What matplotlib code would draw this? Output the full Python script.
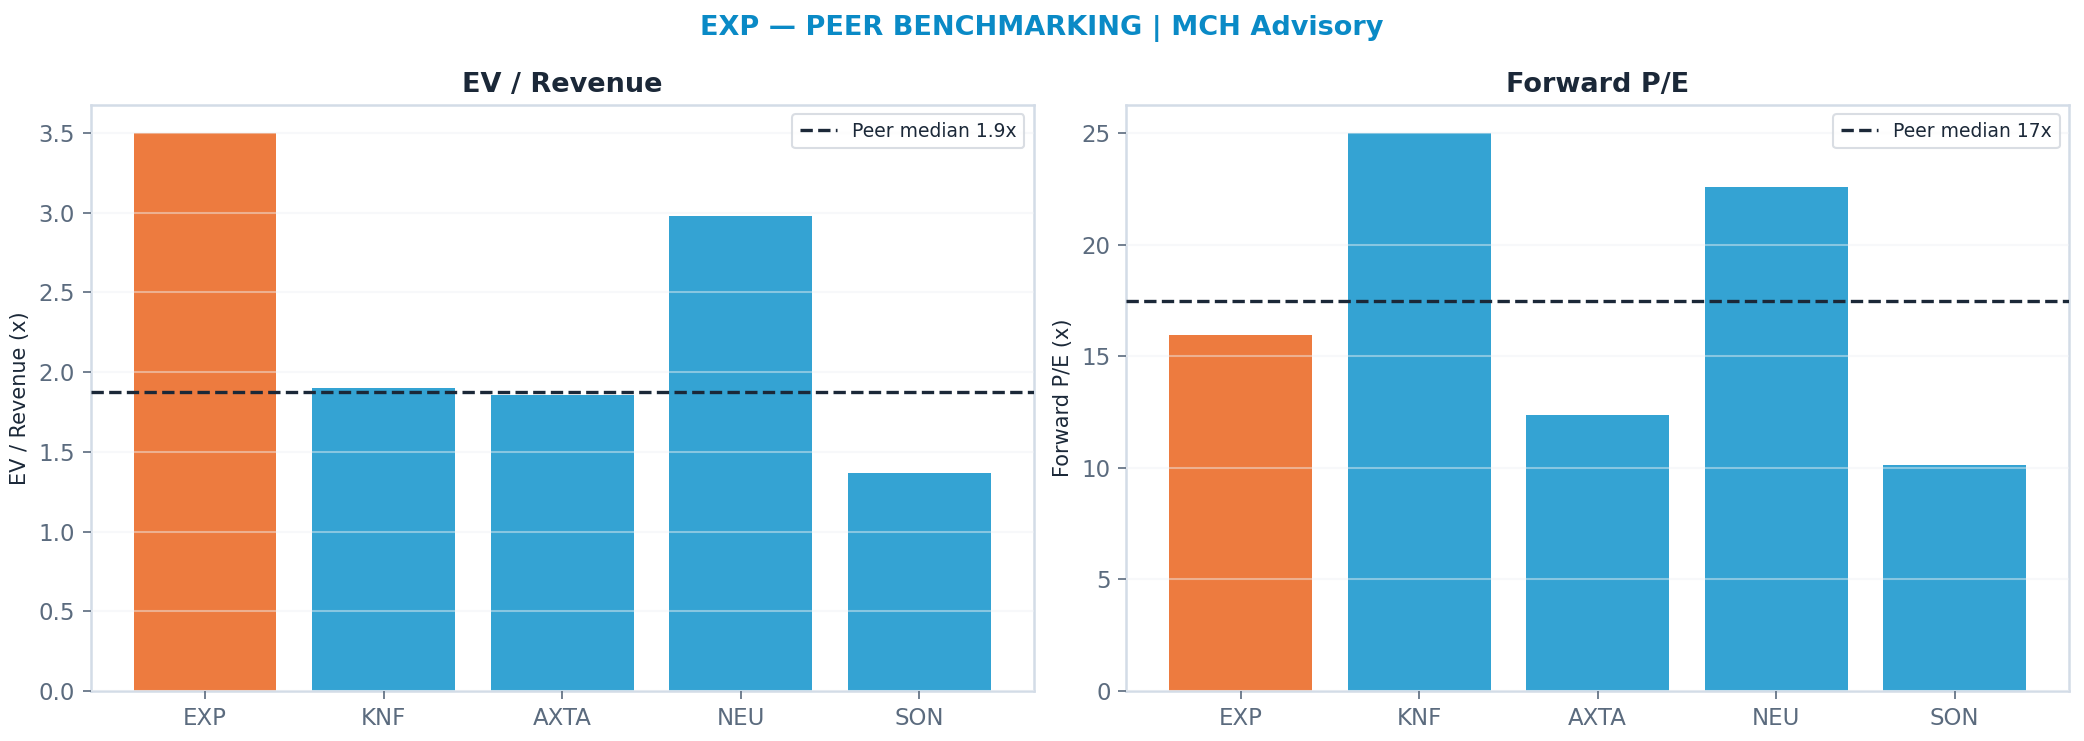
import numpy as np
import matplotlib
matplotlib.use("Agg")
import matplotlib.pyplot as plt

# Peer data
tickers = ["EXP", "KNF", "AXTA", "NEU", "SON"]
ev_revenue = [3.50, 1.90, 1.855, 2.98, 1.37]
forward_pe = [15.95, 25.0, 12.38, 22.56, 10.12]

ORANGE = "#ED7B3F"
BLUE = "#34A3D3"
NAVY = "#1B2838"
SLATE = "#5B6B7E"
SPINE = "#D3DCE7"

plt.rcParams["font.family"] = "DejaVu Sans"

fig = plt.figure(figsize=(2084 / 150, 741 / 150), dpi=150)
ax1 = fig.add_axes([0.0435, 0.0675, 0.4525, 0.7908])
ax2 = fig.add_axes([0.5405, 0.0675, 0.4523, 0.7908])

panels = [
    (ax1, ev_revenue, "EV / Revenue", "EV / Revenue (x)", "{:.1f}x"),
    (ax2, forward_pe, "Forward P/E", "Forward P/E (x)", "{:.0f}x"),
]

for ax, vals, title, ylabel, fmt in panels:
    colors = [ORANGE] + [BLUE] * (len(vals) - 1)
    ax.bar(tickers, vals, color=colors, width=0.8, zorder=2)
    median = np.median(vals[1:])
    ax.axhline(median, color=NAVY, linestyle="--", linewidth=1.6,
               label="Peer median " + fmt.format(median), zorder=4)
    ax.set_title(title, fontsize=13, fontweight="bold", color=NAVY, pad=6)
    ax.set_ylabel(ylabel, fontsize=10, color=NAVY)
    ax.grid(axis="y", color="#EEF1F4", linewidth=1, alpha=0.45, zorder=3)
    ax.set_axisbelow(False)
    for s in ax.spines.values():
        s.set_color(SPINE)
        s.set_linewidth(1.2)
    ax.tick_params(colors=SLATE, labelsize=11)
    ax.tick_params(axis="x", length=4, color=SLATE)
    ax.tick_params(axis="y", length=4, color=SLATE)
    leg = ax.legend(loc="upper right", fontsize=9, frameon=True,
                    edgecolor="#D0D5DC", fancybox=True)
    for t in leg.get_texts():
        t.set_color(NAVY)

fig.suptitle("EXP — PEER BENCHMARKING | MCH Advisory", fontsize=13,
             fontweight="bold", color="#0A8AC6", y=0.98)

fig.savefig("out.png", dpi=150)
